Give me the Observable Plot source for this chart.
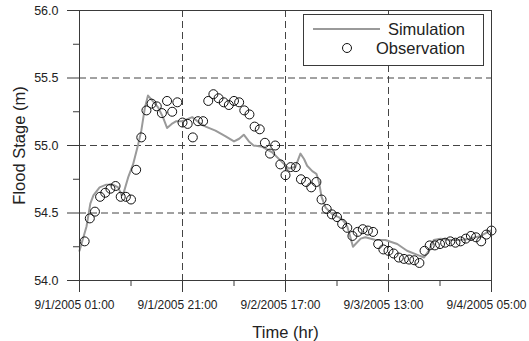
<!DOCTYPE html>
<html>
<head>
<meta charset="utf-8">
<script src="https://cdn.jsdelivr.net/npm/d3@7"></script>
<script src="https://cdn.jsdelivr.net/npm/@observablehq/plot@0.6"></script>
<style>
  html, body { margin: 0; padding: 0; background: white; }
  #wrap { position: relative; width: 529px; height: 341px; font-family: "Liberation Sans", Arial, sans-serif; }
  #legend { position: absolute; left: 303px; top: 14px; }
</style>
</head>
<body>
<div id="wrap"></div>
<script>
// ---- data ----
const xTickValues = [0, 20, 40, 60, 80];
const xTickLabels = ["9/1/2005 01:00", "9/1/2005 21:00", "9/2/2005 17:00", "9/3/2005 13:00", "9/4/2005 05:00"];
const xMinorTicks = [10, 30, 50, 70];
const yTickValues = [54.0, 54.5, 55.0, 55.5, 56.0];
const yMinorTicks = [54.25, 54.75, 55.25, 55.75];
const xGrid = [20, 40, 60];
const yGrid = [54.5, 55.0, 55.5];

const simHour = [0,1.36,2.1,2.7,3.9,5.2,6.5,7.5,8.2,8.5,9.5,10.4,11.4,12.0,12.7,13.3,14.2,15.3,16.2,17.0,17.9,18.8,20,21.9,23.2,24.5,26.4,28.3,30,31,31.9,32.9,33.8,35.5,37.4,39,40.6,41.9,42.9,43.6,44.2,45.2,46.0,46.5,47.0,47.8,49.1,50.3,51.3,52.0,52.6,53.1,53.6,54.6,55.5,57.5,59.4,61.7,63.6,65.6,66.9,67.8,68.8,70.1,72,74,75.9,77.9,79.8];
const simStage = [54.22,54.40,54.57,54.63,54.69,54.71,54.71,54.69,54.63,54.64,54.77,54.86,55.01,55.11,55.28,55.37,55.33,55.28,55.21,55.13,55.16,55.18,55.18,55.21,55.17,55.14,55.11,55.07,55.03,55.05,55.08,55.03,55.00,54.99,54.95,54.89,54.83,54.84,54.94,54.90,54.85,54.81,54.79,54.73,54.62,54.54,54.49,54.47,54.44,54.40,54.32,54.25,54.27,54.31,54.32,54.30,54.30,54.27,54.22,54.19,54.17,54.22,54.30,54.31,54.30,54.30,54.31,54.33,54.37];

const obsHour = [1,2,3,4,5,6,7,8,9,10,11,12,13,14,15,16,17,18,19,20,21,22,23,24,25,26,27,28,29,30,31,32,33,34,35,36,37,38,39,40,41,42,43,44,45,46,47,48,49,50,51,52,53,54,55,56,57,58,59,60,61,62,63,64,65,66,67,68,69,70,71,72,73,74,75,76,77,78,79,80];
const obsStage = [
  54.29,54.46,54.51,54.62,54.65,54.68,54.70,54.62,54.62,54.60,
  54.82,55.06,55.26,55.31,55.29,55.24,55.33,55.25,55.32,55.17,
  55.16,55.06,55.18,55.18,55.33,55.38,55.35,55.32,55.30,55.33,
  55.32,55.26,55.23,55.14,55.12,55.02,54.94,55.00,54.86,54.78,
  54.84,54.84,54.75,54.73,54.69,54.73,54.60,54.53,54.49,54.47,
  54.42,54.39,54.33,54.36,54.38,54.37,54.36,54.27,54.23,54.22,
  54.20,54.17,54.16,54.155,54.15,54.13,54.22,54.26,54.26,54.27,
  54.28,54.29,54.28,54.29,54.31,54.33,54.32,54.29,54.34,54.37
];

const sim = simHour.map((h, i) => ({hour: h, stage: simStage[i]}));
const obs = obsHour.map((h, i) => ({hour: h, stage: obsStage[i]}));

const axisColor = "#3a3a3a";
const gridStyle = {stroke: "#444", strokeDasharray: "7,4", strokeWidth: 1};

const chart = Plot.plot({
  width: 529,
  height: 341,
  marginLeft: 79,
  marginRight: 38,
  marginTop: 10,
  marginBottom: 61,
  style: {fontFamily: "'Liberation Sans', Arial, sans-serif", fontSize: "12px", color: "#222", background: "white"},
  x: {type: "linear", domain: [0, 80]},
  y: {type: "linear", domain: [54, 56]},
  marks: [
    Plot.ruleY(yGrid, gridStyle),
    Plot.ruleX(xGrid, gridStyle),
    Plot.line(sim, {x: "hour", y: "stage", stroke: "#9a9a9a", strokeWidth: 2}),
    Plot.dot(obs, {x: "hour", y: "stage", r: 4.5, stroke: "#111", fill: "none", strokeWidth: 1}),
    Plot.frame({stroke: axisColor}),
    Plot.axisY({ticks: yTickValues, tickSize: 12, tickPadding: 9, tickFormat: d3.format(".1f"), label: null, stroke: axisColor, fontSize: 12.5}),
    Plot.axisY({ticks: yMinorTicks, tickSize: 6, tickFormat: () => "", label: null, stroke: axisColor}),
    Plot.axisX({ticks: xTickValues, tickSize: 12, tickFormat: () => "", label: null, stroke: axisColor}),
    Plot.axisX({ticks: xMinorTicks, tickSize: 6, tickFormat: () => "", label: null, stroke: axisColor}),
    Plot.axisX({ticks: xTickValues, tickSize: 0, tickPadding: 20, dx: -5, tickFormat: d => xTickLabels[xTickValues.indexOf(d)], label: null, fontSize: 12}),
    Plot.axisY({ticks: [], tickSize: 0, label: "Flood Stage (m)", labelAnchor: "center", labelOffset: 66, labelArrow: "none", fontSize: 16.5}),
    Plot.axisX({ticks: [], tickSize: 0, label: "Time (hr)", labelAnchor: "center", labelOffset: 57, labelArrow: "none", fontSize: 16.5})
  ]
});

const wrap = document.getElementById("wrap");
wrap.appendChild(chart);

// legend
const ns = "http://www.w3.org/2000/svg";
const lg = document.createElementNS(ns, "svg");
lg.setAttribute("id", "legend");
lg.setAttribute("width", 182);
lg.setAttribute("height", 53);
lg.innerHTML = `
  <rect x="0.5" y="0.5" width="180" height="51" fill="white" stroke="${axisColor}" stroke-width="1"/>
  <line x1="10" x2="77" y1="15" y2="15" stroke="#9a9a9a" stroke-width="2"/>
  <text x="162" y="15" text-anchor="end" dominant-baseline="central" font-family="'Liberation Sans', Arial, sans-serif" font-size="16.5" fill="#222">Simulation</text>
  <circle cx="44" cy="34" r="4.5" fill="none" stroke="#111" stroke-width="1"/>
  <text x="162" y="34" text-anchor="end" dominant-baseline="central" font-family="'Liberation Sans', Arial, sans-serif" font-size="16.5" fill="#222">Observation</text>
`;
wrap.appendChild(lg);
</script>
</body>
</html>
